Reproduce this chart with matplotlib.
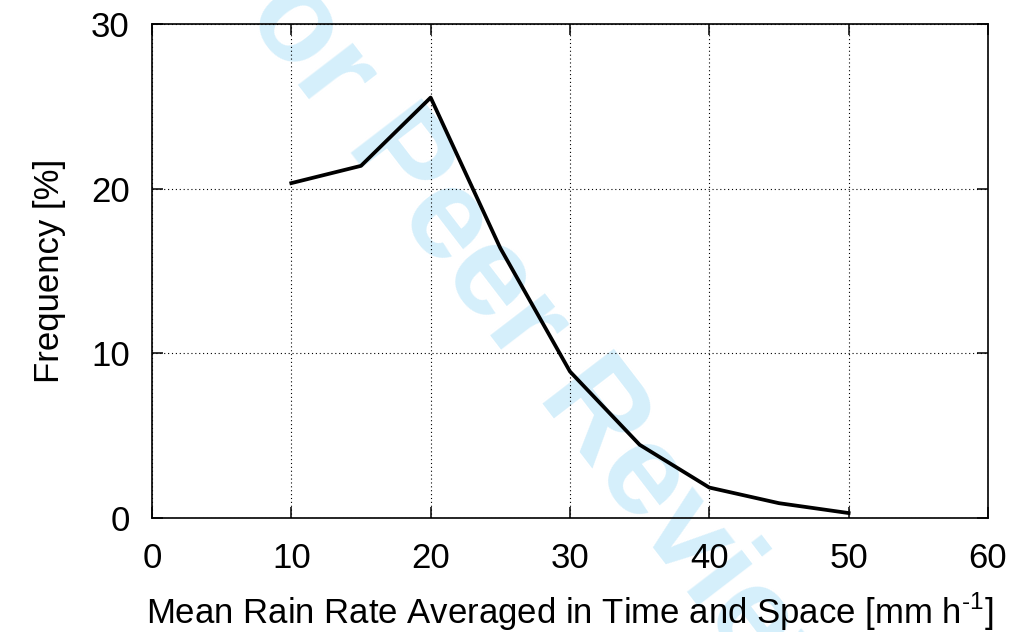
import matplotlib
matplotlib.use("Agg")
import matplotlib.pyplot as plt

rain_rate = [10, 15, 20, 25, 30, 35, 40, 45, 50]
frequency = [20.35, 21.4, 25.55, 16.4, 8.9, 4.45, 1.85, 0.9, 0.3]
x_ticks = [0, 10, 20, 30, 40, 50, 60]
y_ticks = [0, 10, 20, 30]

plt.rcParams['font.family'] = ['Liberation Sans', 'DejaVu Sans']

fig = plt.figure(figsize=(10.16, 6.32), dpi=100)
fig.text(0.5197, 0.4763, "For Peer Review", rotation=-52.5, rotation_mode='anchor',
         ha='center', va='center', fontsize=93, fontweight='bold',
         color='#d5effb', zorder=-5)

ax = fig.add_axes([0.1496, 0.1804, 0.8228, 0.7811])
ax.set_facecolor('none')
ax.plot(rain_rate, frequency, color='black', lw=2.7, zorder=3)
ax.set_xlim(0, 60)
ax.set_ylim(0, 30)
ax.set_xticks(x_ticks)
ax.set_yticks(y_ticks)
ax.grid(True, color='black', linestyle=(0, (1, 2.5)), lw=0.8)
ax.tick_params(direction='in', length=8, width=1.1, top=True, right=True,
               labelsize=25)
ax.tick_params(axis='x', pad=17)
ax.tick_params(axis='y', pad=16)
for s in ax.spines.values():
    s.set_linewidth(1.2)
ax.set_xlabel("Mean Rain Rate Averaged in Time and Space [mm h$^{\\mathregular{\u2010 1}}$]",
              fontsize=25, labelpad=12)
ax.set_ylabel("Frequency [%]", fontsize=25, labelpad=18)

fig.savefig("out.png", dpi=100)
